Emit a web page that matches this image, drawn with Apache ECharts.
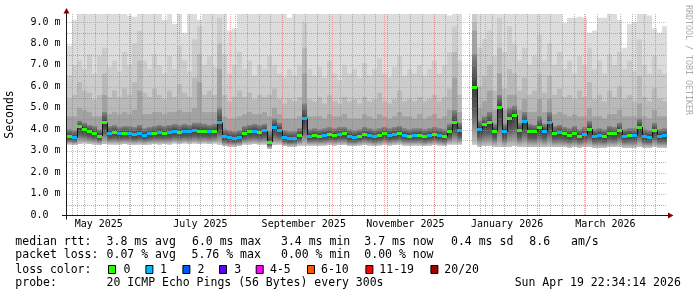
<!DOCTYPE html>
<html><head><meta charset="utf-8">
<script src="https://cdn.jsdelivr.net/npm/echarts@6/dist/echarts.min.js"></script>
<style>html,body{margin:0;padding:0;background:#fff}#c{width:697px;height:297px}</style>
</head><body><div id="c"></div>
<script>
// ---------------- data ----------------
// 120 bins of 3 days each, starting 2025-04-24 22:34:14 UTC (last 360 days)
var medianRtt = [
3.65,3.60,4.12,4.00,3.90,3.82,3.68,4.30,3.80,3.85,
3.78,3.80,3.80,3.75,3.80,3.72,3.78,3.80,3.85,3.80,
3.85,3.90,3.85,3.90,3.88,3.95,3.90,3.90,3.88,3.90,
4.30,3.65,3.60,3.58,3.62,3.80,3.88,3.90,3.85,3.92,
3.40,4.10,3.95,3.60,3.55,3.58,3.70,4.50,3.68,3.70,
3.68,3.72,3.75,3.72,3.75,3.78,3.65,3.62,3.68,3.75,
3.72,3.65,3.70,3.78,3.70,3.75,3.80,3.72,3.68,3.70,
3.72,3.65,3.70,3.75,3.70,3.65,3.88,4.30,3.92,null,
null,5.95,4.00,4.20,4.30,3.90,5.00,3.88,4.50,4.65,
3.95,4.35,3.90,3.88,4.10,3.90,4.30,3.80,3.85,3.78,
3.72,3.80,3.68,3.75,4.00,3.68,3.72,3.65,3.80,3.78,
3.95,3.68,3.72,3.70,4.10,3.65,3.62,3.95,3.68,3.70];
var lossCount = [
0,1,0,0,0,0,0,0,1,0,
1,0,1,1,1,1,1,0,1,0,
1,1,0,1,1,1,0,0,1,0,
1,1,1,1,1,0,0,1,0,1,
0,1,1,1,1,1,0,1,1,0,
0,1,0,0,1,0,1,1,0,0,
1,1,0,0,1,1,0,1,0,1,
0,0,1,0,1,0,0,0,1,0,
0,0,1,0,0,0,0,1,0,0,
0,1,0,0,0,1,1,0,1,0,
0,0,0,1,0,1,1,0,0,0,
0,1,0,1,0,1,1,0,1,1];
var smokeLo = [
3.30,3.28,3.32,3.35,3.32,3.30,3.28,3.32,3.30,3.30,
3.30,3.32,3.30,3.28,3.30,3.28,3.30,3.32,3.30,3.32,
3.30,3.35,3.32,3.35,3.32,3.35,3.32,3.35,3.32,3.35,
3.30,3.22,3.20,3.20,3.22,3.30,3.30,3.32,3.30,3.30,
3.10,3.28,3.30,3.22,3.20,3.20,3.25,3.25,3.25,3.25,
3.25,3.25,3.28,3.25,3.28,3.28,3.22,3.22,3.25,3.28,
3.25,3.22,3.25,3.28,3.25,3.28,3.30,3.25,3.25,3.25,
3.25,3.22,3.25,3.28,3.25,3.22,3.30,3.30,3.30,null,
null,3.30,3.20,3.22,3.22,3.20,3.20,3.18,3.20,3.22,
3.20,3.20,3.18,3.18,3.20,3.18,3.20,3.18,3.18,3.18,
3.15,3.18,3.15,3.18,3.18,3.15,3.15,3.15,3.18,3.18,
3.20,3.15,3.15,3.15,3.18,3.15,3.15,3.18,3.15,3.15];
var smokeTop1 = [
7.9,9.1,9.4,9.4,9.4,9.4,9.4,9.4,9.4,9.4,
9.4,9.4,9.3,9.25,9.4,9.4,9.4,9.4,9.4,9.1,
9.4,8.9,9.4,8.5,9.4,9.4,9.1,9.4,9.4,9.4,
9.4,9.4,8.6,8.7,9.4,9.4,9.4,9.4,9.4,9.4,
9.4,9.4,9.4,9.4,9.2,9.4,9.4,9.4,9.4,9.4,
9.4,9.4,9.4,9.4,9.4,9.4,9.4,9.4,9.4,9.4,
9.4,9.4,9.4,9.4,9.4,9.4,9.4,9.4,9.4,9.4,
9.4,9.4,9.4,9.4,9.4,9.4,9.3,9.4,9.4,null,
null,9.4,9.4,9.4,9.4,9.4,9.4,9.4,9.4,9.4,
9.4,9.4,9.4,9.4,9.4,9.4,9.4,9.4,9.4,8.95,
9.2,9.2,9.25,9.2,8.5,8.6,9.2,9.2,9.4,9.4,
9.1,7.8,8.9,9.0,9.4,9.4,9.3,8.7,8.5,8.8];
var smokeTop2 = [
6.5,7.0,7.2,6.8,7.5,6.6,7.4,7.8,6.9,7.2,
6.7,7.6,7.0,8.0,8.6,7.2,6.8,7.5,7.0,6.6,
7.4,6.8,7.9,7.2,6.7,8.2,8.8,7.0,7.4,6.9,
9.2,7.5,6.6,7.0,7.6,6.8,7.2,6.5,7.0,6.8,
7.4,7.0,6.6,6.4,6.8,6.5,7.0,9.0,6.8,6.5,
6.9,6.4,7.2,6.6,6.3,7.0,6.6,6.8,6.4,7.1,
6.5,6.8,7.3,6.6,6.4,6.9,7.4,6.5,6.8,6.6,
7.0,6.5,6.8,7.2,6.6,7.0,7.6,8.8,7.2,null,
null,9.4,7.8,8.2,8.6,7.4,9.2,7.6,8.8,8.0,
7.2,7.8,7.0,7.4,8.4,7.2,8.0,7.0,7.6,6.8,
7.2,6.6,7.4,7.0,7.8,6.8,7.2,6.6,7.5,7.0,
7.6,6.8,7.2,6.7,8.2,7.0,6.6,7.4,6.8,6.6];
var smokeTop3 = [
5.4,5.6,6.2,5.8,5.7,5.4,5.6,6.6,5.5,5.8,
5.5,5.9,5.6,6.2,7.2,5.7,5.5,5.9,5.6,5.4,
5.8,5.5,6.1,5.7,5.5,6.4,7.5,5.6,5.8,5.6,
8.0,5.6,5.3,5.5,5.8,5.5,5.7,5.4,5.6,5.5,
5.6,5.9,5.4,5.2,5.4,5.3,5.5,7.8,5.4,5.3,
5.5,5.2,5.6,5.3,5.2,5.5,5.3,5.4,5.2,5.5,
5.3,5.4,5.7,5.3,5.2,5.4,5.8,5.3,5.4,5.3,
5.5,5.3,5.4,5.6,5.3,5.5,5.9,7.6,5.6,null,
null,9.0,6.0,6.5,7.0,5.8,7.8,5.9,6.8,6.6,
5.8,6.4,5.6,5.8,6.6,5.7,6.5,5.6,5.9,5.5,
5.6,5.4,5.8,5.5,6.2,5.4,5.6,5.3,5.8,5.5,
6.0,5.4,5.6,5.3,6.5,5.5,5.3,5.9,5.4,5.3];
var smokeTop4 = [
4.6,4.6,5.0,4.9,4.8,4.6,4.6,5.6,4.7,4.8,
4.7,4.8,4.7,4.9,5.8,4.7,4.7,4.8,4.8,4.7,
4.8,4.8,4.9,4.8,4.8,5.0,6.2,4.8,4.8,4.8,
6.8,4.6,4.5,4.5,4.6,4.7,4.8,4.7,4.7,4.8,
4.6,5.0,4.7,4.5,4.5,4.5,4.6,6.6,4.6,4.6,
4.6,4.5,4.7,4.6,4.6,4.7,4.5,4.5,4.5,4.7,
4.6,4.5,4.7,4.6,4.5,4.6,4.8,4.6,4.6,4.5,
4.7,4.5,4.6,4.7,4.5,4.6,4.9,6.4,4.8,null,
null,8.6,5.0,5.3,5.8,4.9,6.6,4.9,5.6,5.6,
4.9,5.4,4.8,4.8,5.4,4.8,5.4,4.7,4.8,4.7,
4.6,4.7,4.6,4.6,5.0,4.6,4.6,4.5,4.7,4.7,
4.9,4.6,4.6,4.6,5.2,4.6,4.5,4.9,4.6,4.6];
var smokeTop5 = [
4.0,3.95,4.4,4.3,4.2,4.15,4.0,4.8,4.15,4.2,
4.1,4.15,4.15,4.1,4.2,4.05,4.1,4.15,4.2,4.15,
4.2,4.25,4.2,4.25,4.2,4.3,4.3,4.25,4.2,4.25,
5.0,4.0,3.95,3.9,3.95,4.15,4.2,4.25,4.2,4.25,
3.9,4.5,4.3,3.95,3.9,3.9,4.05,5.2,4.0,4.05,
4.0,4.05,4.1,4.05,4.1,4.1,4.0,3.95,4.0,4.1,
4.05,4.0,4.05,4.1,4.05,4.1,4.15,4.05,4.0,4.05,
4.05,4.0,4.05,4.1,4.05,4.0,4.25,4.9,4.3,null,
null,7.5,4.4,4.6,4.8,4.25,5.6,4.25,5.0,5.1,
4.3,4.8,4.25,4.2,4.6,4.25,4.8,4.15,4.2,4.1,
4.05,4.15,4.0,4.1,4.4,4.0,4.05,4.0,4.15,4.1,
4.3,4.0,4.05,4.05,4.5,4.0,3.95,4.3,4.0,4.05];

var yTickLabels = ['0.0  ','1.0 m','2.0 m','3.0 m','4.0 m','5.0 m','6.0 m','7.0 m','8.0 m','9.0 m'];
var xLabelText = ['May 2025','July 2025','September 2025','November 2025','January 2026','March 2026'];
var xLabelYM = [[2025,4],[2025,6],[2025,8],[2025,10],[2026,0],[2026,2]];
var lossLegendLabels = ['0','1','2','3','4-5','6-10','11-19','20/20'];
var lossLegendColors = ['#26ff00','#00b8ff','#0059ff','#5e00ff','#ff00ff','#ff5500','#ff0000','#a10000'];

// ---------------- setup ----------------
var DAY = 86400000;
var START = Date.UTC(2025,3,24,22,34,14);
var END = Date.UTC(2026,3,19,22,34,14);
var BIN = 3*DAY;
var Y_MAX = 9.373;
var FONT = '"DejaVu Sans Mono", monospace';

var binStart = medianRtt.map(function(_, i){ return START + i*BIN; });
var xLabelPos = xLabelYM.map(function(a){ return Date.UTC(a[0], a[1], 14); });

var weekLines = [], monthLines = [], hMinor = [], hMajor = [];
(function(){
  for (var w = Date.UTC(2025,3,28); w < END; w += 7*DAY) weekLines.push(w);
  var yy = 2025, mm = 4;
  while (Date.UTC(yy, mm, 1) < END) { monthLines.push(Date.UTC(yy, mm, 1)); mm++; if (mm > 11) { mm = 0; yy++; } }
  for (var k = 1; k <= 18; k++) { if (k % 2) hMinor.push(k/2); else hMajor.push(k/2); }
})();

var MINOR = 'rgba(130,130,130,0.6)';
var MAJOR = 'rgba(235,120,120,0.6)';

var smokeSeries = {
  type:'custom', z:2, silent:true, clip:true,
  data: binStart.map(function(t, i){ return [t, smokeLo[i] == null ? 0 : smokeLo[i], i]; }),
  renderItem: function(p, api) {
    var i = api.value(2);
    if (smokeLo[i] == null || medianRtt[i] == null) return null;
    var t0 = api.value(0), t1 = t0 + BIN;
    var x0 = Math.round(api.coord([t0, 0])[0]), x1 = Math.round(api.coord([t1, 0])[0]);
    function Y(v){ return api.coord([t0, Math.min(v, Y_MAX)])[1]; }
    var yLo = Y(smokeLo[i]), yM = Y(medianRtt[i]);
    function rect(top, bot, fill){ return {type:'rect', shape:{x:x0, y:top, width:x1-x0, height:Math.max(0, bot-top)}, style:{fill:fill}}; }
    var kids = [
      rect(Y(smokeTop1[i]), yLo, '#dcdcdc'),
      rect(Y(smokeTop2[i]), yLo, '#cccccc'),
      rect(Y(smokeTop3[i]), yLo, '#b9b9b9'),
      rect(Y(smokeTop4[i]), yLo, '#a2a2a2'),
      rect(Y(smokeTop5[i]), yM, {type:'linear', x:0, y:0, x2:0, y2:1, colorStops:[{offset:0, color:'#868686'},{offset:1, color:'#3a3a3a'}]}),
      rect(yM, yLo, {type:'linear', x:0, y:0, x2:0, y2:1, colorStops:[{offset:0, color:'#3a3a3a'},{offset:0.45, color:'#606060'},{offset:1, color:'#c6c6c6'}]})
    ];
    return {type:'group', children:kids};
  }
};

var medianSeries = {
  type:'custom', z:5, silent:true, clip:true,
  data: binStart.map(function(t, i){ return [t, medianRtt[i] == null ? 0 : medianRtt[i], i]; }),
  renderItem: function(p, api) {
    var i = api.value(2);
    if (medianRtt[i] == null) return null;
    var t0 = api.value(0), t1 = t0 + BIN;
    var x0 = Math.round(api.coord([t0, 0])[0]), x1 = Math.round(api.coord([t1, 0])[0]);
    var yM = api.coord([t0, medianRtt[i]])[1];
    var kids = [];
    if (i > 0 && medianRtt[i-1] != null) {
      var yP = api.coord([t0, medianRtt[i-1]])[1];
      kids.push({type:'line', shape:{x1:x0+0.5, y1:yP, x2:x0+0.5, y2:yM}, style:{stroke:'#151515', lineWidth:1}});
    }
    kids.push({type:'rect', shape:{x:x0, y:Math.round(yM-1.5), width:x1-x0, height:3}, style:{fill: lossLegendColors[lossCount[i]]}});
    return {type:'group', children:kids};
  }
};

var option = {
  animation:false,
  backgroundColor:'#ffffff',
  grid:{left:67, top:14, width:600, height:201, containLabel:false},
  xAxis:{ type:'value', min:START, max:END,
    axisLine:{show:false}, axisTick:{show:false}, splitLine:{show:false},
    axisLabel:{ customValues:xLabelPos, margin:4,
      formatter:function(v){ var j = xLabelPos.indexOf(v); return j >= 0 ? xLabelText[j] : ''; },
      fontFamily:FONT, fontSize:10, color:'#000' } },
  yAxis:{ type:'value', min:0, max:Y_MAX, interval:1,
    axisLine:{show:false}, axisTick:{show:false}, splitLine:{show:false},
    axisLabel:{ margin:6.5, fontFamily:FONT, fontSize:10, color:'#000',
      formatter:function(v){ var r = Math.round(v); return Math.abs(v - r) < 1e-6 && r >= 0 && r < yTickLabels.length ? yTickLabels[r] : ''; } } },
  series:[ smokeSeries, medianSeries ]
};

var chart = echarts.init(document.getElementById('c'), null, {renderer:'canvas'});
chart.setOption(option);

// ---------------- grid, decorations & legend ----------------
function px(t, v){ return chart.convertToPixel({gridIndex:0}, [t, v]); }
var pO = px(START, 0), pT = px(START, Y_MAX), pR = px(END, 0);
var g = [];
function vline(t, color, z){
  var x = Math.round(px(t, 0)[0]) + 0.5;
  g.push({type:'line', z:z, silent:true, shape:{x1:x, y1:pT[1], x2:x, y2:pO[1]}, style:{stroke:color, lineWidth:1, lineDash:[1,1]}});
}
function hline(v, color, z){
  var yy = Math.ceil(px(START, v)[1] - 0.01) + 0.5;
  g.push({type:'line', z:z, silent:true, shape:{x1:pO[0], y1:yy, x2:pR[0], y2:yy}, style:{stroke:color, lineWidth:1, lineDash:[1,1]}});
}
weekLines.forEach(function(t){ vline(t, MINOR, 3); });
hMinor.forEach(function(v){ hline(v, MINOR, 3); });
monthLines.forEach(function(t){ vline(t, MAJOR, 4); });
hMajor.forEach(function(v){ hline(v, MAJOR, 4); });

var ax = pO[0] - 0.5, ay = pO[1] + 0.5;
var LF = '11.5px ' + FONT;
function txt(x, y, s, align) { return {type:'text', z:20, silent:true, x:x, y:y, style:{text:s, font:LF, fill:'#000', align:align||'left', verticalAlign:'middle'}}; }

var rows = [
  [[15.3,'median rtt:'],[106.6,'3.8 ms avg'],[192,'6.0 ms max'],[281,'3.4 ms min'],[364.3,'3.7 ms now'],[451,'0.4 ms sd'],[529.3,'8.6'],[571,'am/s']],
  [[15.3,'packet loss:'],[106.6,'0.07 % avg'],[191.6,'5.76 % max'],[281,'0.00 % min'],[364.3,'0.00 % now']],
  [[15.3,'loss color:']],
  [[15.3,'probe:'],[106.6,'20 ICMP Echo Pings (56 Bytes) every 300s']]
];
var rowY = [241.6, 255.4, 269.6, 283.2];
rows.forEach(function(r, ri){ r.forEach(function(c){ g.push(txt(c[0], rowY[ri], c[1])); }); });
g.push(txt(680.8, rowY[3], 'Sun Apr 19 22:34:14 2026', 'right'));
var boxX = [108.5,145.9,182.9,219.5,256.2,307.5,365.9,430.9];
var boxTX = [123.4,160,197.6,234.3,270,321,379.3,444.3];
lossLegendLabels.forEach(function(l, i){
  g.push({type:'rect', z:20, silent:true, shape:{x:boxX[i], y:265.5, width:7, height:8}, style:{fill:lossLegendColors[i], stroke:'#000', lineWidth:1}});
  g.push(txt(boxTX[i], rowY[2], l));
});
g.push({type:'text', z:20, silent:true, x:10.5, y:(pO[1]+pT[1])/2, rotation:Math.PI/2,
  style:{text:'Seconds', font:'11.5px ' + FONT, fill:'#000', align:'center', verticalAlign:'middle'}});
g.push({type:'text', z:20, silent:true, x:688, y:60, rotation:-Math.PI/2,
  style:{text:'RRDTOOL / TOBI OETIKER', font:'8.3px ' + FONT, fill:'#ababab', align:'center', verticalAlign:'middle'}});
// axes
g.push({type:'line', z:15, silent:true, shape:{x1:pO[0]-5, y1:ay, x2:pR[0]+1.5, y2:ay}, style:{stroke:'#1a1a1a', lineWidth:1}});
g.push({type:'line', z:15, silent:true, shape:{x1:ax, y1:pO[1]+4.5, x2:ax, y2:pT[1]-1}, style:{stroke:'#1a1a1a', lineWidth:1}});
g.push({type:'polygon', z:16, silent:true, shape:{points:[[ax-3, pT[1]-0.5],[ax+3, pT[1]-0.5],[ax, pT[1]-6]]}, style:{fill:'#800000'}});
g.push({type:'polygon', z:16, silent:true, shape:{points:[[pR[0]+1, ay-3],[pR[0]+1, ay+3],[pR[0]+6.5, ay]]}, style:{fill:'#800000'}});
chart.setOption({graphic:g});
</script></body></html>
